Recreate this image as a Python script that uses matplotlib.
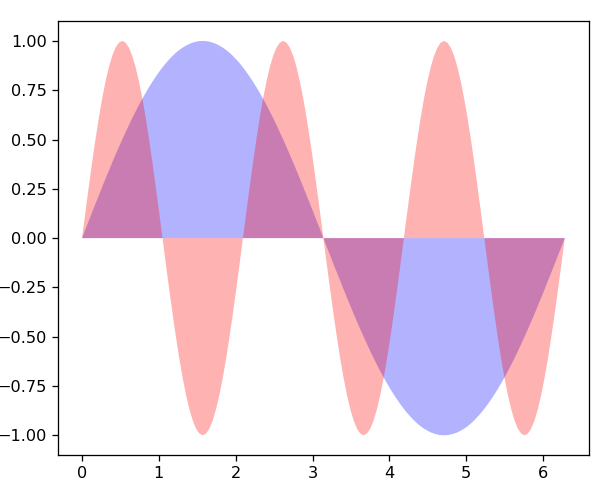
import numpy as np
import matplotlib
matplotlib.use("Agg")
from matplotlib import pyplot as plt

# samples, 145 evenly spaced points from 0 to 2*pi
x_start, x_end = 0.0, 6.283
blue = [0.000, 0.044, 0.087, 0.131, 0.174, 0.216, 0.259, 0.301, 0.342, 0.383, 0.423, 0.462,
        0.500, 0.537, 0.574, 0.609, 0.643, 0.676, 0.707, 0.737, 0.766, 0.793, 0.819, 0.843,
        0.866, 0.887, 0.906, 0.924, 0.940, 0.954, 0.966, 0.976, 0.985, 0.991, 0.996, 0.999,
        1.000, 0.999, 0.996, 0.991, 0.985, 0.976, 0.966, 0.954, 0.940, 0.924, 0.906, 0.887,
        0.866, 0.843, 0.819, 0.793, 0.766, 0.737, 0.707, 0.676, 0.643, 0.609, 0.574, 0.537,
        0.500, 0.462, 0.423, 0.383, 0.342, 0.301, 0.259, 0.216, 0.174, 0.131, 0.087, 0.044,
        0.000, -0.044, -0.087, -0.131, -0.174, -0.216, -0.259, -0.301, -0.342, -0.383, -0.423, -0.462,
        -0.500, -0.537, -0.574, -0.609, -0.643, -0.676, -0.707, -0.737, -0.766, -0.793, -0.819, -0.843,
        -0.866, -0.887, -0.906, -0.924, -0.940, -0.954, -0.966, -0.976, -0.985, -0.991, -0.996, -0.999,
        -1.000, -0.999, -0.996, -0.991, -0.985, -0.976, -0.966, -0.954, -0.940, -0.924, -0.906, -0.887,
        -0.866, -0.843, -0.819, -0.793, -0.766, -0.737, -0.707, -0.676, -0.643, -0.609, -0.574, -0.537,
        -0.500, -0.462, -0.423, -0.383, -0.342, -0.301, -0.259, -0.216, -0.174, -0.131, -0.087, -0.044,
        0.000]
red = [0.000, 0.131, 0.259, 0.383, 0.500, 0.609, 0.707, 0.793, 0.866, 0.924, 0.966, 0.991,
       1.000, 0.991, 0.966, 0.924, 0.866, 0.793, 0.707, 0.609, 0.500, 0.383, 0.259, 0.131,
       0.000, -0.131, -0.259, -0.383, -0.500, -0.609, -0.707, -0.793, -0.866, -0.924, -0.966, -0.991,
       -1.000, -0.991, -0.966, -0.924, -0.866, -0.793, -0.707, -0.609, -0.500, -0.383, -0.259, -0.131,
       0.000, 0.131, 0.259, 0.383, 0.500, 0.609, 0.707, 0.793, 0.866, 0.924, 0.966, 0.991,
       1.000, 0.991, 0.966, 0.924, 0.866, 0.793, 0.707, 0.609, 0.500, 0.383, 0.259, 0.131,
       0.000, -0.131, -0.259, -0.383, -0.500, -0.609, -0.707, -0.793, -0.866, -0.924, -0.966, -0.991,
       -1.000, -0.991, -0.966, -0.924, -0.866, -0.793, -0.707, -0.609, -0.500, -0.383, -0.259, -0.131,
       0.000, 0.131, 0.259, 0.383, 0.500, 0.609, 0.707, 0.793, 0.866, 0.924, 0.966, 0.991,
       1.000, 0.991, 0.966, 0.924, 0.866, 0.793, 0.707, 0.609, 0.500, 0.383, 0.259, 0.131,
       0.000, -0.131, -0.259, -0.383, -0.500, -0.609, -0.707, -0.793, -0.866, -0.924, -0.966, -0.991,
       -1.000, -0.991, -0.966, -0.924, -0.866, -0.793, -0.707, -0.609, -0.500, -0.383, -0.259, -0.131,
       0.000]

x = np.linspace(x_start, x_end, len(blue))

# reference looks like a cropped render at ~116 dpi
fig = plt.figure(figsize=(616 / 116, 493 / 116), dpi=116)
ax = fig.add_axes([0.094, 0.077, 0.862, 0.880])
ax.fill(x, blue, 'b', x, red, 'r', alpha=0.3)

fig.savefig("out.png", dpi=116)
